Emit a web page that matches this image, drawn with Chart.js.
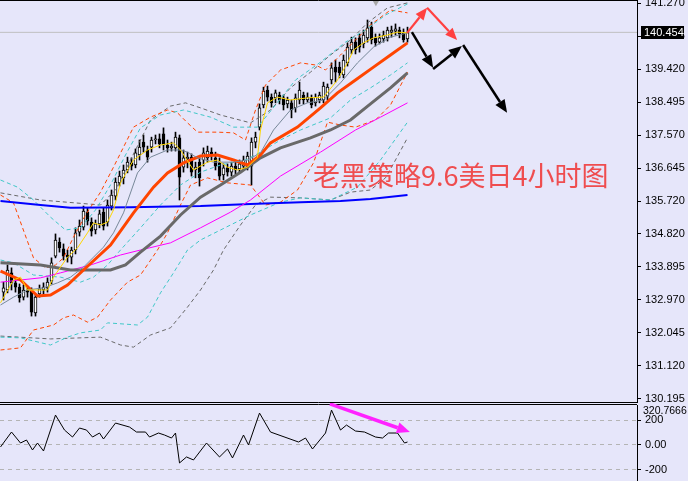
<!DOCTYPE html>
<html>
<head>
<meta charset="utf-8">
<script src="https://cdn.jsdelivr.net/npm/chart.js"></script>
<style>
html, body { margin: 0; padding: 0; background: #e6e6fa; width: 688px; height: 481px; overflow: hidden; }
canvas { position: absolute; left: 0; }
#main { top: 0; }
#cci { top: 403px; }
</style>
</head>
<body>
<canvas id="main" width="688" height="403"></canvas>
<canvas id="cci" width="688" height="78"></canvas>
<script>
// USDJPY H4 candles, one per bar index
const opens = [133.18,133.24,133.72,133.44,133.32,133.04,133.24,133.21,132.60,133.13,133.24,133.30,133.49,134.19,134.58,134.39,134.22,134.16,134.36,134.86,
  135.00,135.42,135.14,134.92,135.09,135.42,135.14,135.59,135.87,136.24,136.38,136.60,136.80,136.74,137.02,137.38,137.16,137.24,137.44,137.47,
  137.61,137.30,137.22,137.22,137.50,136.68,136.91,136.96,136.60,136.82,136.88,136.94,137.10,136.94,136.80,136.46,136.66,136.54,136.71,136.63,
  136.71,136.68,136.71,137.38,137.80,138.42,138.84,138.64,138.62,138.70,138.62,138.45,138.48,138.34,138.56,138.70,138.56,138.62,138.48,138.56,
  138.56,138.67,139.12,139.48,139.48,139.26,139.60,139.96,140.18,140.30,140.13,140.30,140.60,140.30,140.18,140.27,140.30,140.46,140.49,140.52,
  140.44,140.27];
const highs = [133.46,133.94,133.86,133.58,133.41,133.38,133.35,133.30,133.13,133.38,133.44,133.58,134.14,134.81,134.70,134.53,134.36,134.44,134.98,135.20,
  135.59,135.54,135.26,135.20,135.48,135.54,135.76,136.04,136.38,136.57,136.74,136.96,136.94,137.19,137.44,137.58,137.27,137.52,137.58,137.61,
  137.78,137.44,137.38,137.66,137.58,137.16,137.10,137.05,136.82,136.94,137.22,137.27,137.22,137.10,136.94,136.77,136.77,136.82,136.85,136.88,
  136.99,137.10,137.50,137.66,138.45,138.92,138.95,138.73,138.84,138.78,138.70,138.64,138.56,138.73,139.06,138.78,138.76,138.70,138.73,138.78,
  139.06,139.01,139.60,139.68,139.62,139.82,140.16,140.32,140.30,140.41,140.52,140.80,140.74,140.41,140.41,140.49,140.60,140.63,140.69,140.60,
  140.55,140.60];
const lows = [132.96,133.16,133.24,133.18,132.90,132.96,133.04,132.51,132.51,133.04,133.10,133.18,133.41,134.14,134.30,134.08,134.02,133.97,134.25,134.75,
  134.92,135.06,134.75,134.81,134.98,134.92,135.03,135.48,135.76,136.15,136.21,136.52,136.60,136.66,136.88,137.10,136.82,137.10,137.33,137.22,
  137.16,137.10,137.13,137.13,135.76,136.54,136.66,136.43,136.38,136.15,136.71,136.82,136.88,136.60,136.32,136.32,136.43,136.43,136.49,136.54,
  136.60,136.60,136.18,137.22,137.72,138.34,138.53,138.36,138.48,138.45,138.28,138.34,138.06,138.22,138.45,138.45,138.50,138.34,138.39,138.48,
  138.48,138.56,139.01,139.06,139.18,139.18,139.51,139.85,139.85,139.90,140.02,140.18,140.13,140.07,140.13,140.18,140.21,140.32,140.38,140.30,
  140.18,140.18];
const closes = [133.30,133.80,133.44,133.32,133.02,133.24,133.18,132.62,133.04,133.27,133.32,133.46,134.00,134.64,134.42,134.19,134.16,134.36,134.84,135.03,
  135.45,135.17,134.89,135.09,135.37,135.03,135.62,135.90,136.26,136.43,136.60,136.82,136.71,137.08,137.24,137.24,136.96,137.44,137.47,137.33,
  137.30,137.22,137.27,137.52,136.40,136.94,136.96,136.54,136.68,136.38,137.08,137.13,137.02,136.71,136.43,136.66,136.54,136.71,136.60,136.77,
  136.88,136.99,137.38,137.52,138.34,138.81,138.64,138.48,138.76,138.56,138.42,138.56,138.28,138.62,138.84,138.56,138.64,138.42,138.64,138.70,
  138.95,138.92,139.46,139.34,139.32,139.68,140.04,140.18,139.96,140.04,140.38,140.58,140.24,140.16,140.30,140.38,140.52,140.52,140.55,140.41,
  140.24,140.45];

const lastPrice = 140.454;
const priceTicks = [141.270, 140.345, 139.420, 138.495, 137.570, 136.645, 135.720, 134.820, 133.895, 132.970, 132.045, 131.120, 130.195];
const cciTicks = [200, 0, -200];
const cciMax = 320.7666;

// indicator lines as [bar index, price]
const maFast = [[-0.75,132.88],[2.5,133.52],[4.25,133.60],[6,133.24],[7.5,133.24],[11,133.24],[12.5,133.60],[14.25,133.88],[16,134.16],[18.5,134.42],
  [21,134.84],[22.5,135.12],[24.25,135.06],[26,135.14],[27.5,135.48],[29.25,136.24],[32.5,136.88],[36,137.16],[39.25,137.30],[42.5,137.36],
  [44.25,137.16],[47.5,136.60],[51,136.82],[53.5,136.88],[56,136.68],[58.5,136.60],[61,136.68],[63.5,136.96],[64.25,137.72],[66,138.48],
  [68.5,138.64],[71.75,138.56],[76,138.62],[80,138.64],[83.5,139.12],[86,139.60],[87.5,139.96],[90,140.16],[92.5,140.30],[96,140.38],
  [98.5,140.46],[101,140.44]];
const maSlow = [[-0.75,132.82],[2.5,133.04],[6,133.24],[10,133.30],[13.5,133.44],[16.75,133.60],[20,133.88],[22.5,134.16],[25,134.44],[27.5,134.84],
  [30,135.40],[33.5,136.52],[36.75,136.96],[41,137.16],[44.25,137.16],[46,137.10],[48.5,136.94],[52.5,136.82],[57.5,136.82],[61,136.88],
  [64.25,137.08],[67.5,137.72],[71.75,138.28],[76,138.48],[80,138.56],[84.25,139.04],[88.5,139.60],[92.5,140.04],[96.75,140.32],[101,140.44]];
const maOrange = [[-0.75,133.77],[4.25,133.52],[8.5,133.07],[11.75,133.10],[16,133.38],[20,133.80],[26.75,134.50],[32.5,135.40],[37.5,136.12],[41,136.52],
  [45,136.80],[49.25,136.99],[53.5,137.02],[57.5,136.88],[61,136.74],[64.25,137.02],[66.75,137.36],[73.5,137.80],[79.25,138.34],[83.5,138.76],
  [88,139.12],[92.5,139.48],[96.75,139.82],[101,140.16]];
const maGray = [[-0.75,134.00],[9.25,133.94],[16.75,133.80],[26.75,133.80],[30.5,133.94],[34.25,134.30],[39.25,134.75],[44.25,135.34],[49.25,135.84],
  [54.25,136.18],[59.25,136.54],[64.25,136.94],[69.25,137.22],[76.75,137.50],[81.75,137.72],[86.75,138.00],[91.75,138.45],[96.75,138.90],[101,139.32]];
const maMagenta = [[-0.75,133.46],[9.25,133.58],[14.25,133.72],[21.75,133.94],[29.25,134.22],[34.25,134.36],[41.75,134.56],[49.25,134.98],[56.75,135.42],
  [61.75,135.76],[69.25,136.43],[79.25,137.10],[88,137.72],[94.25,138.08],[101,138.48]];
const maBlue = [[-0.75,135.73],[9.25,135.62],[16.75,135.54],[31.75,135.56],[49.25,135.59],[61.75,135.65],[74.25,135.70],[84.25,135.73],[91.75,135.79],[101,135.90]];

const bandOrangeUp = [[-0.75,135.90],[2.5,135.68],[7.5,134.14],[10.5,133.86],[13,133.94],[15,134.14],[17.5,134.72],[20.5,135.34],[24.25,135.98],[27.5,136.68],
  [32.5,137.80],[36.75,138.08],[41,138.28],[43.5,138.20],[46,137.92],[48.5,137.66],[53.5,137.66],[57.5,137.64],[60.5,137.44],[63,138.28],
  [65.5,138.98],[69.25,139.40],[74.25,139.60],[78,139.54],[80.5,139.40],[84.25,139.82],[88,140.24],[91.75,140.66],[96.75,141.08],[101,141.00]];
const bandOrangeLo = [[-0.75,131.56],[4.25,131.62],[7.5,132.12],[12.5,132.26],[15,132.46],[17.5,132.54],[21,132.34],[23.5,132.48],[26.75,132.96],[31,133.46],
  [34.25,133.66],[38.5,134.36],[41,134.84],[44.25,135.62],[46.75,136.18],[51,136.38],[56,136.24],[61.75,136.18],[65.5,135.62],[69.25,135.70],
  [73.5,136.04],[77.5,136.80],[81,137.94],[84.25,137.86],[88,137.80],[93,138.00],[96.75,138.42],[101,139.34]];
const bandCyanUp = [[-0.75,136.32],[3.5,136.12],[7.5,135.76],[11.75,135.28],[15.5,134.92],[19.25,134.98],[23,135.48],[26.75,136.18],[30.5,137.02],[34.25,137.78],
  [39.25,138.14],[45,138.28],[51.75,138.08],[57.5,137.80],[63.5,137.80],[68,138.42],[73,139.12],[79.25,139.62],[85.5,140.18],[90.5,140.52],
  [95.5,140.94],[101,141.25]];
const bandCyanMid = [[-0.75,134.08],[2.5,134.00],[7.5,133.66],[14.25,133.60],[19.25,133.46],[22.5,133.60],[26,133.94],[29.25,134.36],[34.25,134.98],[39.25,135.62],
  [44.25,136.18],[49.25,136.54],[54.25,136.74],[60.5,136.88],[64.25,137.10],[69.25,137.44],[74.25,137.72],[81.75,138.06],[86.75,138.56],[91.75,138.90],
  [96.75,139.26],[101,139.60]];
const bandCyanLo = [[-0.75,131.92],[4.25,131.90],[11.75,131.70],[16,131.92],[19.25,132.04],[24.25,132.12],[26,132.32],[33.5,132.26],[36,132.48],[39.25,133.16],
  [42.5,133.72],[46,134.36],[49.25,134.64],[54.25,134.92],[61.75,135.34],[69.25,135.70],[74.25,135.82],[81.75,135.76],[88.5,136.12],[94.25,136.88],[101,137.94]];
const bandGrayUp = [[-0.75,135.96],[9.25,135.76],[24.25,135.62],[28,136.04],[31.75,136.88],[36.75,138.00],[41.75,138.39],[45.5,138.48],[49.25,138.34],[54.25,138.14],
  [61.75,137.92],[66.75,138.28],[71.75,138.90],[76.75,139.34],[81.75,139.82],[86.75,140.24],[91,140.72],[96,141.14],[101,141.28]];
const bandGrayLo = [[-0.75,131.95],[11.75,131.87],[24.25,131.92],[29.25,131.70],[32.5,131.64],[36.75,131.98],[41.75,132.18],[46,132.76],[49.25,133.24],[52.5,133.80],
  [55,134.36],[59.25,135.06],[63,135.62],[66.75,135.84],[74.25,135.82],[81.75,135.76],[86.75,135.98],[91.75,136.04],[95.5,136.38],[98,136.88],[101,137.50]];

// CCI sub window, [bar index, value]
const cciLine = [[-0.75,-16],[2,104],[4.25,16],[5.75,40],[7.25,-40],[8.5,16],[10,-48],[13,240],[15.25,120],[17.25,64],[19,136],[20.75,120],[22.25,64],
  [24,96],[25,48],[28,176],[31.5,144],[33.25,104],[35.5,104],[36.5,64],[38.75,96],[40.25,80],[42,56],[43,96],[44,-144],[45.75,-96],[47.5,-120],
  [50.75,16],[54,-96],[56,-32],[57.25,-104],[60,80],[61.25,0],[64,256],[66.75,104],[73.75,24],[75.5,56],[77.25,-32],[80.5,96],[82,280],[84.25,120],
  [85.75,160],[88,112],[90.25,104],[93,64],[94.75,56],[96.25,96],[98.5,96],[100.25,16],[101,24]];

// hand drawn annotations, [bar index, price]
const redArrows = [[[100.9,140.44],[105.9,141.14]], [[105.9,141.14],[113.4,140.24]]];
const blackArrows = [[[102.1,140.46],[107.4,139.46]], [[107.4,139.43],[114.6,140.07]], [[114.9,140.10],[125.9,138.20]]];
const cciArrow = [[81.6,329],[101.6,104]];
const title = '老黑策略9.6美日4小时图';
const titleAt = [77.4, 136.43];

const BG = '#e6e6fa';
const X_MIN = -0.875, X_MAX = 158.375;
Chart.defaults.font.family = 'Liberation Sans';
Chart.defaults.font.size = 11;
Chart.defaults.color = '#000';

const pts = arr => arr.map(([x, y]) => ({x, y}));
const line = (data, color, width, dash) => ({
  type: 'line', data: pts(data), borderColor: color, borderWidth: width,
  borderDash: dash || [], pointRadius: 0, tension: 0, fill: false
});

function drawArrow(ctx, x1, y1, x2, y2, color, w, head) {
  const a = Math.atan2(y2 - y1, x2 - x1);
  const bx = x2 - Math.cos(a) * head, by = y2 - Math.sin(a) * head;
  ctx.strokeStyle = color; ctx.fillStyle = color; ctx.lineWidth = w;
  ctx.beginPath(); ctx.moveTo(x1, y1); ctx.lineTo(bx, by); ctx.stroke();
  ctx.beginPath();
  ctx.moveTo(x2, y2);
  ctx.lineTo(bx + Math.sin(a) * head * 0.42, by - Math.cos(a) * head * 0.42);
  ctx.lineTo(bx - Math.sin(a) * head * 0.42, by + Math.cos(a) * head * 0.42);
  ctx.closePath(); ctx.fill();
}

const backdrop = {
  id: 'backdrop',
  beforeDraw(chart) {
    const c = chart.ctx;
    c.save(); c.fillStyle = BG; c.fillRect(0, 0, chart.width, chart.height); c.restore();
  }
};

const mainDecor = {
  id: 'mainDecor',
  afterDraw(chart) {
    const {ctx, chartArea: a, scales: {x, y}} = chart;
    ctx.save();
    ctx.strokeStyle = '#000'; ctx.lineWidth = 1;
    ctx.beginPath();
    ctx.moveTo(0, 0.5); ctx.lineTo(a.right, 0.5);
    ctx.moveTo(0, a.bottom - 0.5); ctx.lineTo(a.right, a.bottom - 0.5);
    ctx.stroke();

    // current price tag
    const py = Math.round(y.getPixelForValue(lastPrice));
    ctx.fillStyle = '#000';
    ctx.fillRect(a.right + 4, py - 6, 43, 13);
    ctx.fillStyle = '#fff';
    ctx.font = '11px Liberation Sans';
    ctx.textBaseline = 'middle';
    ctx.fillText(lastPrice.toFixed(3), a.right + 7, py + 1);

    // title text
    ctx.font = '27px "Noto Sans CJK SC"';
    ctx.fillStyle = 'rgba(240,60,60,0.9)';
    ctx.fillText(title, x.getPixelForValue(titleAt[0]), y.getPixelForValue(titleAt[1]));

    // arrows
    redArrows.forEach(([p, q]) => drawArrow(ctx, x.getPixelForValue(p[0]), y.getPixelForValue(p[1]),
      x.getPixelForValue(q[0]), y.getPixelForValue(q[1]), '#ff4040', 2.2, 12));
    blackArrows.forEach(([p, q]) => drawArrow(ctx, x.getPixelForValue(p[0]), y.getPixelForValue(p[1]),
      x.getPixelForValue(q[0]), y.getPixelForValue(q[1]), '#000', 2.5, 13));
    ctx.restore();
  }
};

const cciDecor = {
  id: 'cciDecor',
  afterDraw(chart) {
    const {ctx, chartArea: a, scales: {x, y}} = chart;
    ctx.save();
    ctx.strokeStyle = '#000'; ctx.lineWidth = 1;
    ctx.beginPath(); ctx.moveTo(0, a.top - 0.5); ctx.lineTo(a.right, a.top - 0.5); ctx.stroke();
    ctx.fillStyle = '#000';
    ctx.font = '10.5px Liberation Sans';
    ctx.textBaseline = 'middle';
    ctx.fillText(String(cciMax), a.right + 6, a.top + 6);
    drawArrow(ctx, x.getPixelForValue(cciArrow[0][0]), y.getPixelForValue(cciArrow[0][1]),
      x.getPixelForValue(cciArrow[1][0]), y.getPixelForValue(cciArrow[1][1]), '#ff22ff', 3.5, 13);
    ctx.restore();
  }
};

const candleIdx = closes.map((_, i) => i);
const bodies = candleIdx.map(i => ({x: i, y: [opens[i], closes[i]]}));
const wicks = candleIdx.map(i => ({x: i, y: [lows[i], highs[i]]}));
const bodyFill = candleIdx.map(i => closes[i] >= opens[i] ? '#ffffff' : '#000000');

// fixed axis width, no extra room for the end labels
const fixWidth = s => { s.width = 51; s.paddingTop = 0; s.paddingBottom = 0; };

new Chart(document.getElementById('cci'), {
  type: 'line',
  data: {datasets: [line(cciLine, '#000', 1)]},
  options: {
    responsive: false, animation: false, devicePixelRatio: 1,
    layout: {padding: {top: 2, left: 0, right: 0, bottom: 0}, autoPadding: false},
    plugins: {legend: {display: false}, tooltip: {enabled: false}},
    scales: {
      x: {type: 'linear', display: false, min: X_MIN, max: X_MAX, offset: false},
      y: {
        type: 'linear', position: 'right', min: -288.7, max: cciMax,
        afterBuildTicks: s => { s.ticks = cciTicks.map(v => ({value: v})); },
        afterFit: fixWidth,
        grid: {drawOnChartArea: true, color: '#b4b4b4', drawTicks: true, tickLength: 4, tickColor: '#000', tickBorderDash: []},
        border: {display: true, color: '#000', width: 1, dash: [4, 4]},
        ticks: {autoSkip: false, padding: 4, color: '#000', callback: v => v === 0 ? '0.00' : String(v)}
      }
    }
  },
  plugins: [backdrop, cciDecor]
});

new Chart(document.getElementById('main'), {
  type: 'line',
  data: {
    datasets: [
      line(maFast, '#ffd700', 1),
      line(maSlow, '#778899', 1),
      line(maOrange, '#ff4500', 3),
      line(maGray, '#696969', 3),
      line(maMagenta, '#ff00ff', 1),
      line(maBlue, '#0000ff', 2),
      line(bandCyanUp, '#40c8c8', 1, [4, 3]),
      line(bandCyanMid, '#40c8c8', 1, [4, 3]),
      line(bandCyanLo, '#40c8c8', 1, [4, 3]),
      line(bandOrangeUp, '#ff4500', 1, [4, 3]),
      line(bandOrangeLo, '#ff4500', 1, [4, 3]),
      line(bandGrayUp, '#696969', 1, [4, 3]),
      line(bandGrayLo, '#696969', 1, [4, 3]),
      {type: 'line', data: [{x: 93.1, y: 141.30}], showLine: false, pointStyle: 'triangle', rotation: 180,
        pointRadius: 4, pointBackgroundColor: '#a8a8a8', pointBorderWidth: 0},
      {type: 'bar', data: bodies, backgroundColor: bodyFill, borderColor: '#000', borderWidth: 1,
        borderSkipped: false, barThickness: 3, grouped: false},
      {type: 'bar', data: wicks, backgroundColor: '#000', borderWidth: 0, barThickness: 1, grouped: false},
      line([[X_MIN, lastPrice], [X_MAX, lastPrice]], '#c0c0c0', 1)
    ]
  },
  options: {
    responsive: false, animation: false, devicePixelRatio: 1,
    layout: {padding: 0, autoPadding: false},
    plugins: {legend: {display: false}, tooltip: {enabled: false}},
    scales: {
      x: {type: 'linear', display: false, min: X_MIN, max: X_MAX, offset: false},
      y: {
        type: 'linear', position: 'right', min: 130.076, max: 141.36, beginAtZero: false,
        afterBuildTicks: s => { s.ticks = priceTicks.map(v => ({value: v})); },
        afterFit: fixWidth,
        grid: {drawOnChartArea: false, drawTicks: true, tickLength: 4, tickColor: '#000'},
        border: {display: true, color: '#000', width: 1},
        ticks: {autoSkip: false, padding: 4, color: '#000', callback: v => v.toFixed(3)}
      }
    }
  },
  plugins: [backdrop, mainDecor]
});
</script>
</body>
</html>
